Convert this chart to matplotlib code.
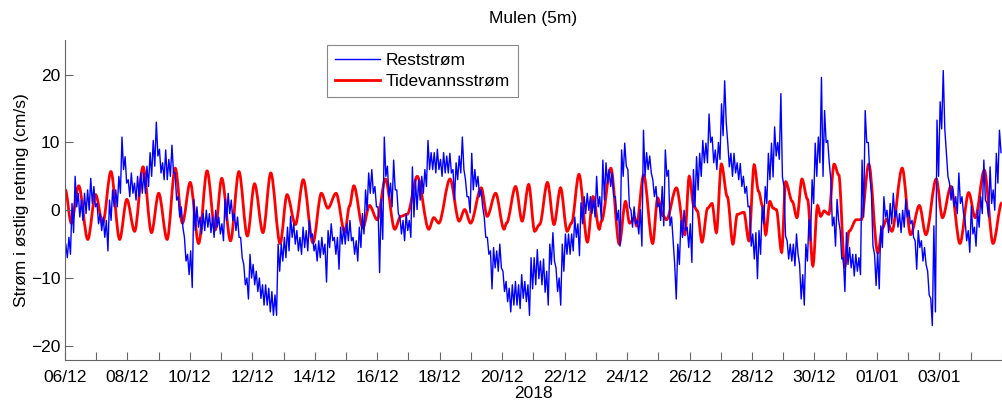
import numpy as np
import pandas as pd
import matplotlib
matplotlib.use('Agg')
import matplotlib.pyplot as plt
import matplotlib.dates as mdates
from matplotlib.path import Path
from matplotlib.patches import PathPatch
from matplotlib.lines import Line2D

plt.rcParams['font.family'] = ['Liberation Sans', 'DejaVu Sans']

start = pd.Timestamp('2018-12-06')

# Reststrøm (cm/s): øvre og nedre kant av det støyete signalet, avlest for hvert 0.1 døgn
rest_step = 0.1
rest_hi = [
    -5.0, -4.0, 1.0, 5.0, 2.5, 1.5, 2.5, 3.0, 4.7, 3.5, 1.0, -0.5, -1.0, -1.5, 1.5, 3.0, 3.0, 5.0, 10.8, 7.9,
    4.5, 5.5, 4.0, 5.0, 5.5, 5.5, 6.5, 8.5, 10.3, 13.0, 9.0, 7.0, 8.9, 7.5, 9.6, 5.5, 2.0, 0.5, -4.0, -6.5,
    -6.0, 1.6, 0.5, -1.0, -0.5, 0.0, -0.5, -1.0, 0.0, -1.0, -2.0, 1.6, 2.5, 1.5, -0.5, -1.0, -4.0, -8.0, -10.0, -6.5,
    -8.0, -9.0, -10.0, -11.0, -11.0, -11.5, -12.0, -12.5, -5.0, -5.0, -4.0, -2.5, -0.9, -2.0, -3.0, -4.0, -2.5, -3.0, -1.5, -3.5,
    -5.0, -4.5, -4.0, -5.0, -3.0, -2.0, -4.0, -4.0, -2.5, -2.5, -2.0, -1.5, -4.0, -4.5, -2.5, -0.5, 3.0, 5.5, 6.0, 3.5,
    0.5, 1.6, 10.8, 6.5, 4.0, 7.4, 3.0, -1.0, -1.5, -0.5, -1.5, 6.4, 4.5, 4.5, 5.0, 6.0, 10.3, 8.5, 8.5, 9.0,
    7.5, 8.5, 8.0, 8.4, 6.0, 7.0, 8.0, 10.8, 4.5, 2.0, 8.4, 6.0, 5.0, 3.0, -1.0, -4.0, -6.0, -5.5, -6.0, -5.0,
    -9.0, -10.5, -11.5, -11.0, -10.5, -11.0, -9.5, -10.5, -11.0, -7.0, -7.0, -5.8, -7.5, -7.2, -9.0, -5.0, -3.3, -8.5, -10.0, -5.0,
    -3.5, -3.5, -3.5, -1.0, -2.0, 1.1, 2.0, 2.5, 2.0, 1.5, 5.0, 2.0, 7.4, 7.0, 6.0, 5.5, 2.0, 0.0, 8.9, 9.9,
    6.0, 0.0, 0.5, -1.5, 0.1, 11.8, 8.5, 8.0, 4.5, 3.5, 1.0, 3.5, 8.9, 5.9, -1.0, -8.0, -5.0, -1.5, 0.0, -2.5,
    -2.0, 6.0, 7.9, 8.4, 10.3, 9.9, 14.2, 10.8, 8.9, 10.0, 15.7, 19.1, 9.9, 8.4, 8.4, 7.0, 6.9, 5.0, 3.5, 0.6,
    -3.5, -3.3, -3.0, 0.5, 3.5, 8.4, 9.9, 12.3, 10.0, 17.2, 3.5, -4.5, -5.0, -5.0, -3.5, -8.0, -9.5, -5.0, -1.4, 4.5,
    9.9, 10.8, 19.6, 14.7, 10.3, 4.5, -1.0, 1.6, -3.0, -7.0, -3.3, -5.5, -6.5, -6.5, -7.0, 7.4, 14.7, 10.0, 2.5, -6.5,
    -6.2, -2.3, 2.0, 0.0, 1.0, 2.5, 0.0, -0.5, 0.0, 1.6, 0.0, -1.5, -4.5, -3.0, -4.5, -5.5, -9.0, -13.0, -2.3, 13.3,
    16.0, 20.6, 8.4, 4.0, 3.5, 2.0, 5.5, 2.0, -1.5, -3.0, 0.6, -2.5, 0.0, 2.0, 7.4, 1.0, 6.4, 3.0, 8.4, 11.8,
]
rest_lo = [
    -7.0, -6.5, -3.3, 0.5, -1.0, -1.5, -0.5, 0.0, 1.0, 0.5, -2.0, -3.0, -4.0, -6.0, -1.5, 0.5, 0.5, 2.5, 6.0, 4.0,
    2.0, 2.5, 1.5, 2.0, 2.5, 2.5, 3.5, 5.0, 6.5, 8.0, 5.5, 4.5, 4.5, 5.0, 5.5, 1.5, -1.0, -2.5, -7.5, -9.5,
    -11.4, -3.0, -2.5, -3.5, -3.0, -2.5, -3.3, -4.0, -2.5, -3.5, -4.5, -1.5, -0.5, -1.5, -3.0, -4.0, -7.0, -11.0, -13.1, -10.0,
    -11.0, -12.0, -13.0, -14.0, -14.0, -15.0, -15.5, -15.5, -9.0, -7.5, -7.0, -6.0, -4.0, -5.0, -6.0, -6.5, -5.5, -6.0, -4.0, -6.0,
    -7.5, -7.0, -6.5, -10.6, -5.5, -4.5, -6.5, -8.7, -5.0, -5.0, -4.5, -4.5, -6.5, -7.5, -5.5, -3.5, 0.0, 2.5, 2.5, 0.5,
    -9.2, -4.3, 5.0, 2.0, 0.5, 3.0, -0.5, -3.5, -4.5, -3.0, -4.0, -1.0, 0.1, 1.5, 2.5, 3.5, 6.0, 6.0, 5.5, 6.0,
    5.0, 5.5, 5.5, 5.5, 1.6, 4.5, 5.5, 6.0, 2.0, -0.4, 3.0, 3.5, 2.0, 0.5, -4.0, -6.5, -11.6, -8.5, -9.0, -8.5,
    -12.0, -13.5, -15.0, -14.0, -14.0, -14.5, -13.0, -13.5, -15.5, -11.6, -11.0, -10.1, -11.0, -12.1, -14.0, -8.0, -7.5, -12.0, -14.0, -9.0,
    -6.5, -6.5, -6.0, -4.0, -6.7, -2.0, -0.5, 0.0, -0.5, -1.0, 0.5, -1.4, 1.5, 4.0, 3.5, 2.0, -1.5, -5.3, 5.0, 6.5,
    0.5, -2.5, -2.0, -3.5, -5.3, 5.0, 6.0, 5.5, 2.0, 0.5, -1.5, -2.3, 5.0, -2.3, -4.5, -13.1, -8.0, -4.0, -3.0, -5.5,
    -7.7, 0.5, 3.0, 5.0, 7.0, 7.0, 10.0, 7.0, 6.0, 7.5, 11.0, 13.0, 6.4, 5.0, 5.5, 4.5, 3.5, 2.5, 0.5, -5.3,
    -7.2, -10.1, -6.5, -2.0, 1.0, 4.5, 4.9, 8.0, 7.5, 4.9, -3.8, -7.2, -7.5, -8.2, -6.5, -13.1, -14.0, -7.5, -4.5, 1.0,
    5.0, 7.0, 5.0, 10.0, 7.0, -2.3, -5.3, -1.5, -7.2, -12.0, -8.0, -8.5, -9.7, -9.0, -9.5, -1.0, 10.0, 5.0, -5.3, -11.1,
    -11.6, -5.5, -1.0, -3.3, -2.0, -1.0, -2.5, -3.3, -2.5, -1.0, -2.0, -4.0, -8.7, -5.5, -7.5, -8.0, -12.5, -17.0, -15.0, 5.0,
    12.0, 12.0, 5.0, 1.5, 0.5, -0.5, 1.0, -0.5, -4.5, -6.2, -3.5, -5.3, -2.5, -0.5, 1.5, -1.0, 1.0, 0.0, 4.0, 8.5,
]

# Tidevannsstrøm (cm/s): topper, bunner og skuldre (tid i døgn etter 06/12 00:00)
tide_days = [
    0.01, 0.20, 0.44, 0.73, 0.98, 1.21, 1.47, 1.75, 1.98, 2.23, 2.50, 2.77, 3.00, 3.27, 3.53, 3.76,
    4.01, 4.28, 4.55, 4.81, 5.02, 5.30, 5.57, 5.84, 6.07, 6.34, 6.59, 6.89, 7.11, 7.38, 7.63, 7.94,
    8.21, 8.42, 8.68, 8.96, 9.11, 9.25, 9.54, 9.75, 10.00, 10.26, 10.56, 10.75, 10.96, 11.28, 11.65,
    11.81, 11.97, 12.33, 12.62, 12.80, 12.99, 13.33, 13.52, 13.79, 14.06, 14.14, 14.43, 14.64, 14.85,
    15.04, 15.20, 15.45, 15.66, 15.87, 16.08, 16.22, 16.46, 16.73, 16.91, 17.11, 17.18, 17.48, 17.75,
    17.95, 18.08, 18.24, 18.30, 18.53, 18.82, 18.98, 19.15, 19.26, 19.58, 19.85, 19.99, 20.14, 20.25,
    20.40, 20.58, 20.72, 20.86, 21.02, 21.21, 21.39, 21.53, 21.74, 21.90, 22.07, 22.21, 22.34, 22.44,
    22.57, 22.68, 22.78, 22.95, 23.08, 23.29, 23.44, 23.60, 23.78, 23.95, 24.10, 24.20, 24.31, 24.46,
    24.63, 24.78, 24.97, 25.11, 25.34, 25.50, 25.74, 26.03, 26.18, 26.31, 26.48, 26.81, 27.08, 27.36,
    27.57, 27.90, 28.10, 28.37, 28.66, 28.94, 29.15, 29.44, 29.72, 30.00,
]
tide_vals = [
    3.0, -1.9, 3.6, -4.3, 2.3, -1.9, 5.7, -4.3, 1.6, -3.1, 6.4, -3.3, 2.5, -4.3, 6.2, -1.9,
    4.1, -4.9, 5.8, -2.9, 4.7, -4.5, 5.7, -3.8, 3.9, -3.3, 5.5, -4.9, 2.3, -2.1, 4.5, -4.8,
    2.5, 0.3, 2.5, -3.3, 0.6, 3.6, -2.6, 0.7, -1.4, 4.6, -2.8, -0.9, -0.6, 5.0, -2.8,
    -1.1, -1.9, 4.6, -1.6, 0.1, -1.9, 3.3, -0.9, 2.5, -2.8, -1.9, 3.5, -1.6, 3.8,
    -3.1, -2.1, 4.1, -2.1, 3.3, -3.1, -1.9, 5.3, -4.7, 2.0, -2.8, -1.6, 6.2, -5.0,
    1.3, -1.9, -1.1, -2.3, 5.2, -4.9, 1.8, -0.8, -1.4, 3.3, -3.6, 5.0, 0.6, -0.1,
    -4.7, 0.3, 1.0, -3.3, 6.8, 2.0, -5.0, -0.6, -0.3, -4.5, 6.7, 2.8, 0.6, -3.6,
    1.3, 0.3, 0.1, -6.2, 4.2, 1.3, -1.1, 4.6, 1.6, -8.2, 0.7, -0.9, -0.1, -0.6,
    6.8, 5.2, -8.3, -3.1, -1.4, -1.4, 6.8, -6.3, -2.6, -1.3, -3.1, 6.2, -3.6, 0.7,
    -3.6, 4.6, -1.1, 3.5, -4.9, 2.6, -1.1, 5.9, -4.9, 1.1,
]

tick_labels = ['06/12', '08/12', '10/12', '12/12', '14/12', '16/12', '18/12', '20/12',
               '22/12', '24/12', '26/12', '28/12', '30/12', '01/01', '03/01']
tick_dates = ['2018-12-06', '2018-12-08', '2018-12-10', '2018-12-12', '2018-12-14',
              '2018-12-16', '2018-12-18', '2018-12-20', '2018-12-22', '2018-12-24',
              '2018-12-26', '2018-12-28', '2018-12-30', '2019-01-01', '2019-01-03']

# øvre og nedre kant flettes sammen til en tett sikksakk-linje
n = len(rest_hi)
bin_start = np.arange(n) * rest_step
rest_days = np.empty(2 * n)
rest_days[0::2] = bin_start + rest_step * 0.25
rest_days[1::2] = bin_start + rest_step * 0.75
rest_vals = np.empty(2 * n)
rest_vals[0::2] = rest_hi
rest_vals[1::2] = rest_lo
rest_t = start + pd.to_timedelta(rest_days, unit='D')
tide_t = start + pd.to_timedelta(tide_days, unit='D')

fig = plt.figure(figsize=(10.03, 4.05), dpi=100)
ax = fig.add_axes([0.0648, 0.111, 0.934, 0.790])

ax.plot(rest_t, rest_vals, color='#0000ff', linewidth=1.0)

# tidevann tegnes som glatt kurve gjennom topper og bunner (flat tangent i hvert punkt)
tx = mdates.date2num(tide_t)
verts = [(tx[0], tide_vals[0])]
codes = [Path.MOVETO]
for i in range(1, len(tx)):
    dx = tx[i] - tx[i - 1]
    verts += [(tx[i - 1] + dx / 3, tide_vals[i - 1]), (tx[i] - dx / 3, tide_vals[i]), (tx[i], tide_vals[i])]
    codes += [Path.CURVE4] * 3
ax.add_patch(PathPatch(Path(verts, codes), facecolor='none', edgecolor='#ff0000',
                       linewidth=2.0, transform=ax.transData))

ax.set_xlim(start, pd.Timestamp('2019-01-05'))
ax.set_ylim(-22.1, 25.1)
ax.set_yticks([-20, -10, 0, 10, 20])

ax.set_xticks(pd.to_datetime(tick_dates))
ax.set_xticklabels(tick_labels)
ax.xaxis.set_minor_locator(mdates.DayLocator())

for side in ['top', 'right']:
    ax.spines[side].set_visible(False)
for side in ['left', 'bottom']:
    ax.spines[side].set_color('#666666')
    ax.spines[side].set_linewidth(0.8)

ax.tick_params(which='both', direction='in', length=6, width=0.8, color='#666666',
               labelsize=12.5, labelcolor='black')
ax.tick_params(axis='x', which='major', pad=7)

ax.set_title('Mulen (5m)', fontsize=12.5, pad=12)
ax.set_xlabel('2018', fontsize=12.5, labelpad=1)
ax.set_ylabel('Strøm i østlig retning (cm/s)', fontsize=12.5, labelpad=1)

handles = [Line2D([], [], color='#0000ff', linewidth=1.0),
           Line2D([], [], color='#ff0000', linewidth=2.0)]
leg = ax.legend(handles, ['Reststrøm', 'Tidevannsstrøm'], loc='upper left',
                bbox_to_anchor=(0.2796, 0.984), fontsize=12.5,
                fancybox=False, edgecolor='#888888', framealpha=1, handlelength=2.6,
                handletextpad=0.35, labelspacing=0.35, borderpad=0.45, borderaxespad=0)
leg.get_frame().set_linewidth(0.8)

fig.savefig('out.png', dpi=100)
